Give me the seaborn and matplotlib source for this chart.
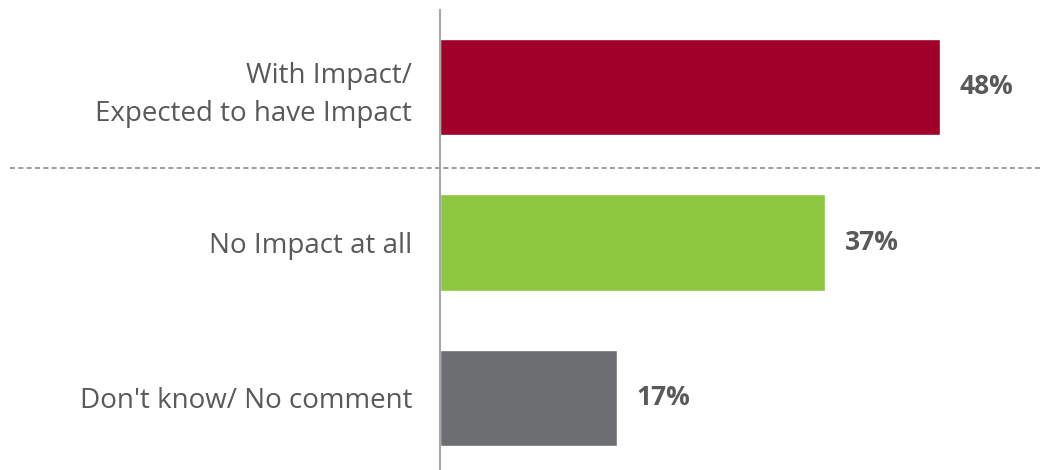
import matplotlib
matplotlib.use("Agg")
import matplotlib.pyplot as plt
import seaborn as sns
import pandas as pd

categories = ["With Impact/\nExpected to have Impact", "No Impact at all", "Don't know/ No comment"]
values = [48, 37, 17]
value_labels = ["48%", "37%", "17%"]
colors = ["#A0002A", "#8DC63F", "#6D6E71"]

sns.set_theme(style="white")
plt.rcParams['font.family'] = ['Open Sans', 'DejaVu Sans']

df = pd.DataFrame({"category": categories, "value": values})

fig = plt.figure(figsize=(10.42, 4.70), dpi=100)
ax = fig.add_axes([440/1042, 0.0, 602/1042, 460/470])

sns.barplot(data=df, x="value", y="category", hue="category", palette=colors,
            legend=False, width=0.62, ax=ax, orient="h", saturation=1)

ax.set_xlim(0, 57.8)
ax.set_ylim(2.463, -0.495)
ax.set_xlabel("")
ax.set_ylabel("")
ax.set_xticks([])
for s in ["top", "right", "bottom"]:
    ax.spines[s].set_visible(False)
ax.spines["left"].set_color("#A6A6A6")
ax.spines["left"].set_linewidth(1.5)
ax.tick_params(axis="y", length=0, pad=20, labelsize=20, labelcolor="#595959")
for lbl in ax.get_yticklabels():
    lbl.set_horizontalalignment("right")
    lbl.set_linespacing(1.45)

labels_iter = iter(value_labels)
for cont in ax.containers:
    ax.bar_label(cont, labels=[next(labels_iter) for _ in cont], padding=14,
                 fontsize=19, fontweight="bold", color="#595959")

ax.axhline(0.52, xmin=-430/602, xmax=1.0, color="#8C8C8C", linestyle=(0, (3, 2)),
           linewidth=1.2, clip_on=False)

fig.savefig("out.png", dpi=100)
